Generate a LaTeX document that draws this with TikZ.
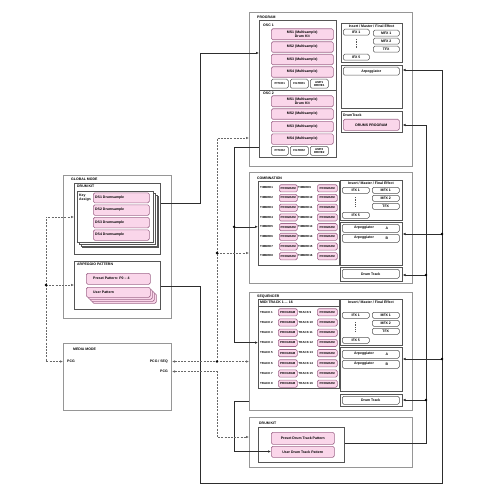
\documentclass[tikz,border=0pt]{standalone}
\usepackage{fontspec}
\setmainfont{Liberation Sans}
\usetikzlibrary{arrows.meta,calc}
\definecolor{pinkf}{RGB}{250,214,234}
\definecolor{pinkd}{RGB}{160,105,140}
\definecolor{outerg}{RGB}{150,150,150}
\definecolor{contg}{RGB}{85,85,85}
\definecolor{lineg}{RGB}{45,45,45}
\definecolor{dashg}{RGB}{105,105,105}
\newcommand\ft{\fontsize{3.5}{4}\selectfont\bfseries}
\newcommand\fts{\fontsize{2.9}{3.3}\selectfont\bfseries}
\newcommand\mybox[7]{\node[#2, inner sep=0pt, minimum width={((#5)-(#3))*1pt}, minimum height={((#6)-(#4))*1pt}, anchor=north west] (#1) at (#3,#4) {#7};}
\tikzset{
 outer/.style={draw=outerg, line width=1.1pt},
 cont/.style={draw=contg, line width=0.6pt},
 pbox/.style={draw=pinkd, fill=pinkf, line width=0.6pt, rounded corners=1.5pt, align=center, font=\ft},
 wbox/.style={draw=contg, fill=white, line width=0.5pt, rounded corners=1.5pt, align=center, font=\ft},
 pagebox/.style={draw=contg, fill=white, line width=0.5pt},
 txt/.style={inner sep=0pt, font=\ft, anchor=west},
 conn/.style={draw=lineg, line width=0.6pt},
 dconn/.style={draw=dashg, line width=0.6pt, dash pattern=on 2pt off 1.2pt},
 tip/.style={-{Latex[length=3pt,width=2.6pt]}},
 tipb/.style={{Latex[length=3pt,width=2.6pt]}-{Latex[length=3pt,width=2.6pt]}},
 jdot/.style={circle, fill=black, inner sep=0pt, minimum size=2.6pt},
 vdots/.style={draw=contg, line width=0.6pt, dash pattern=on 0.6pt off 1.1pt},
}
\begin{document}
\begin{tikzpicture}[x=1pt,y=-1pt]
\fill[white] (0,0) rectangle (500,492);
\useasboundingbox (0,0) rectangle (500,492);

% ================= PROGRAM =================
\mybox{prog}{outer}{249}{12}{412}{166}{}
\node[txt] (progl) at (257,17) {PROGRAM};
\mybox{osc}{cont}{259}{20}{336}{157}{}
\draw[cont] (259,90) -- (336,90);
\node[txt] (osc1l) at (263,25) {OSC 1};
\node[txt] (osc2l) at (263,93.5) {OSC 2};
\mybox{ms11}{pbox}{271}{28.5}{333}{39.5}{MS1 (Multisample)\\Drum Kit}
\mybox{ms12}{pbox}{271}{41.5}{333}{52}{MS2 (Multisample)}
\mybox{ms13}{pbox}{271}{54}{333}{64.5}{MS3 (Multisample)}
\mybox{ms14}{pbox}{271}{66.5}{333}{77}{MS4 (Multisample)}
\mybox{pi1}{wbox,font=\fts}{271}{79}{288}{88}{PITCH1}
\mybox{fi1}{wbox,font=\fts}{290}{79}{308}{88}{FILTER1}
\mybox{am1}{wbox,font=\fts}{310}{79}{328}{88}{AMP1\\DRIVE1}
\mybox{ms21}{pbox}{271}{95.5}{333}{106.5}{MS1 (Multisample)\\Drum Kit}
\mybox{ms22}{pbox}{271}{108.5}{333}{119}{MS2 (Multisample)}
\mybox{ms23}{pbox}{271}{121}{333}{131.5}{MS3 (Multisample)}
\mybox{ms24}{pbox}{271}{133.5}{333}{144}{MS4 (Multisample)}
\mybox{pi2}{wbox,font=\fts}{271}{146}{288}{155}{PITCH2}
\mybox{fi2}{wbox,font=\fts}{290}{146}{308}{155}{FILTER2}
\mybox{am2}{wbox,font=\fts}{310}{146}{328}{155}{AMP2\\DRIVE2}

\mybox{pfx}{cont}{341}{23}{402}{62}{}
\node[txt,anchor=center] (pfxl) at (371.5,26) {Insert / Master / Final Effect};
\mybox{pifx1}{wbox}{343}{29}{369}{35}{IFX 1}
\mybox{pmfx1}{wbox}{373}{30}{399}{36}{MFX 1}
\mybox{pmfx2}{wbox}{373}{38}{399}{44}{MFX 2}
\mybox{ptfx}{wbox}{373}{46}{399}{52}{TFX}
\mybox{pifx5}{wbox}{343}{54}{369}{60}{IFX 5}
\draw[vdots] (356,39) -- (356,48.5);
\mybox{parp}{cont}{341}{65}{402}{108}{}
\mybox{parpb}{wbox}{343}{67}{399}{75}{Arpeggiator}
\mybox{pdt}{cont}{341}{111}{402}{132}{}
\node[txt] (pdtl) at (343,115) {DrumTrack};
\mybox{pdp}{pbox}{343}{119}{399}{130}{DRUMS PROGRAM}

% ================= COMBINATION =================
\mybox{comb}{outer}{249}{172}{412}{283}{}
\node[txt] (combl) at (257,178) {COMBINATION};
\mybox{timb}{cont}{258}{181}{339}{265}{}
\foreach \i in {1,...,8} {
  \pgfmathsetmacro\yy{188+9.7*(\i-1)}
  \pgfmathtruncatemacro\j{\i+8}
  \node[txt,font=\fts] (tl\i) at (260,\yy) {TIMBRE\i};
  \mybox{tp\i}{pbox,font=\fts}{279}{\yy-3.6}{297}{\yy+3.6}{PROGRAM}
  \node[txt,font=\fts] (tl\j) at (298,\yy) {TIMBRE\j};
  \mybox{tp\j}{pbox,font=\fts}{317}{\yy-3.6}{337}{\yy+3.6}{PROGRAM}
}
\mybox{cfx}{cont}{340}{180}{402}{220}{}
\node[txt,anchor=center] (cfxl) at (371,183.5) {Insert / Master / Final Effect};
\mybox{cifx1}{wbox}{342}{187}{369}{193}{IFX 1}
\mybox{cmfx1}{wbox}{372}{187}{399}{193}{MFX 1}
\mybox{cmfx2}{wbox}{372}{195}{399}{201}{MFX 2}
\mybox{ctfx}{wbox}{372}{203}{399}{209}{TFX}
\mybox{cifx5}{wbox}{342}{212}{369}{218}{IFX 5}
\draw[vdots] (355,197) -- (355,206.5);
\mybox{carp}{cont}{340}{222}{402}{265}{}
\mybox{carpa}{wbox}{342}{224}{399}{232}{}
\node[txt,anchor=center] (carpal) at (364,228) {Arpeggiator};
\node[txt,anchor=center] (carpaa) at (387,228) {A};
\mybox{carpb}{wbox}{342}{234}{399}{242}{}
\node[txt,anchor=center] (carpbl) at (364,238) {Arpeggiator};
\node[txt,anchor=center] (carpbb) at (387,238) {B};
\mybox{cdt}{cont}{340}{267}{402}{281}{}
\mybox{cdtb}{wbox}{342}{269}{399}{278}{Drum Track}

% ================= SEQUENCER =================
\mybox{seq}{outer}{249}{292}{412}{410}{}
\node[txt] (seql) at (257,296.5) {SEQUENCER};
\mybox{midi}{cont}{258}{299}{339}{388}{}
\draw[cont] (258,306) -- (339,306);
\node[txt] (midil) at (260,302.5) {MIDI TRACK 1 ... 16};
\foreach \i in {1,...,8} {
  \pgfmathsetmacro\yy{312+10.2*(\i-1)}
  \pgfmathtruncatemacro\j{\i+8}
  \node[txt,font=\fts] (sl\i) at (260,\yy) {TRACK \i};
  \mybox{sp\i}{pbox,font=\fts}{278}{\yy-3.6}{297}{\yy+3.6}{PROGRAM}
  \node[txt,font=\fts] (sl\j) at (298.5,\yy) {TRACK \j};
  \mybox{sp\j}{pbox,font=\fts}{317}{\yy-3.6}{337}{\yy+3.6}{PROGRAM}
}
\mybox{sfx}{cont}{340}{299}{402}{345}{}
\node[txt,anchor=center] (sfxl) at (371,302.5) {Insert / Master / Final Effect};
\mybox{sifx1}{wbox}{342}{312}{369}{318}{IFX 1}
\mybox{smfx1}{wbox}{372}{312}{399}{318}{MFX 1}
\mybox{smfx2}{wbox}{372}{320}{399}{326}{MFX 2}
\mybox{stfx}{wbox}{372}{328}{399}{334}{TFX}
\mybox{sifx5}{wbox}{342}{337}{369}{343}{IFX 5}
\draw[vdots] (355,322) -- (355,331.5);
\mybox{sarp}{cont}{340}{347}{402}{391}{}
\mybox{sarpa}{wbox}{342}{350}{399}{358}{}
\node[txt,anchor=center] (sarpal) at (364,354) {Arpeggiator};
\node[txt,anchor=center] (sarpaa) at (387,354) {A};
\mybox{sarpb}{wbox}{342}{360}{399}{368}{}
\node[txt,anchor=center] (sarpbl) at (364,364) {Arpeggiator};
\node[txt,anchor=center] (sarpbb) at (387,364) {B};
\mybox{sdt}{cont}{340}{394}{402}{406}{}
\mybox{sdtb}{wbox}{342}{396}{399}{404}{Drum Track}

% ================= DRUM KIT (bottom) =================
\mybox{dk}{outer}{249}{417}{412}{467}{}
\node[txt] (dkl) at (259,423) {DRUM KIT};
\mybox{dkc}{cont}{258}{427}{344}{462}{}
\mybox{pdtp}{pbox}{271}{432}{334}{444}{Preset Drum Track Pattern}
\mybox{udt}{pbox}{271}{446}{334}{457}{User Drum Track Pattern}

% ================= GLOBAL MODE =================
\mybox{glob}{outer}{63}{175}{171}{318}{}
\node[txt] (globl) at (71,179.5) {GLOBAL MODE};
\mybox{gdk}{cont}{74}{183}{160}{254}{}
\node[txt] (gdkl) at (77,186.5) {DRUM KIT};
\mybox{pg4}{pagebox}{82.4}{196.4}{158.4}{247.4}{}
\mybox{pg3}{pagebox}{80.6}{194.6}{156.6}{245.6}{}
\mybox{pg2}{pagebox}{78.8}{192.8}{154.8}{243.8}{}
\mybox{pg1}{pagebox}{77}{191}{153}{242}{}
\node[txt,anchor=north west,align=left] (kal) at (79,193.5) {Key\\Assign};
\foreach \n/\ya/\yb in {1/192.5/202.5, 2/204.5/215, 3/217/227.5, 4/229.5/240} {
  \mybox{ds\n}{pbox}{93}{\ya}{149}{\yb}{}
  \node[txt] (dsl\n) at ([xshift=2pt]ds\n.west) {DS\n\ Drumsample};
}
\mybox{garp}{cont}{74}{261}{160}{309}{}
\node[txt] (garpl) at (77,264.5) {ARPEGGIO PATTERN};
\mybox{prp}{pbox}{86}{273}{150}{284}{}
\node[txt] (prpl) at (93,278.5) {Preset Pattern: P0 -- 4};
\mybox{up4}{pbox}{92}{293}{156}{303}{}
\mybox{up3}{pbox}{90}{291}{154}{301}{}
\mybox{up2}{pbox}{88}{289}{152}{299}{}
\mybox{up1}{pbox}{86}{287}{150}{297}{}
\node[txt] (upl) at (93,292) {User Pattern};

% ================= MEDIA MODE =================
\mybox{media}{outer}{63}{343}{171}{410}{}
\node[txt] (medial) at (73,349) {MEDIA MODE};
\node[txt] (mpcgl) at (67,361.5) {PCG};
\node[txt,anchor=east] (mseq) at (168,361.5) {PCG / SEQ};
\node[txt,anchor=east] (mpcgr) at (168,371.5) {PCG};

% ================= connectors =================
% global drum kit -> OSC
\coordinate (b1) at (200,203);
\coordinate (b2) at (200,53);
\draw[conn,tip] (gdk.east |- b1) -- (b1) -- (b2) -- (osc.west |- b2);
% arpeggio pattern -> arpeggiators
\coordinate (a1) at (200,286);
\coordinate (a2) at (200,483);
\coordinate (a3) at (442,483);
\coordinate (a4) at (442,70);
\coordinate (ad1) at (442,234);
\coordinate (ad2) at (442,359);
\draw[conn,tip] (garp.east |- a1) -- (a1) -- (a2) -- (a3) -- (a4) -- (parp.east |- a4);
\draw[conn,tip] (ad1) -- (carp.east |- ad1);
\draw[conn,tip] (ad2) -- (sarp.east |- ad2);
\node[jdot] (nd1) at (ad1) {};
\node[jdot] (nd2) at (ad2) {};
% drum track patterns -> drum tracks
\coordinate (c1) at (426,443);
\coordinate (c2) at (426,125);
\coordinate (cd1) at (426,275);
\coordinate (cd2) at (426,400);
\draw[conn,tip] (dkc.east |- c1) -- (c1) -- (c2) -- (pdt.east |- c2);
\draw[conn,tip] (cd1) -- (cdt.east |- cd1);
\draw[conn,tip] (cd2) -- (sdt.east |- cd2);
\node[jdot] (nd3) at (cd1) {};
\node[jdot] (nd4) at (cd2) {};
% program -> timbres / tracks
\coordinate (e1) at (234,147);
\coordinate (e2) at (234,342.6);
\coordinate (ed) at (234,226.8);
\draw[conn,tip] (osc.west |- e1) -- (e1) -- (e2) -- (midi.west |- e2);
\draw[conn,tip] (ed) -- (timb.west |- ed);
\node[jdot] (nd5) at (ed) {};
% sequencer -> user drum track pattern
\coordinate (f1) at (234,401);
\coordinate (f2) at (234,451.5);
\draw[conn,tip] (seq.west |- f1) -- (f1) -- (f2) -- (udt.west |- f2);
% media PCG (left) dashed
\coordinate (g1) at (46,217);
\coordinate (g2) at (46,361.5);
\coordinate (gd) at (46,285);
\draw[dconn,tip] (gd) -- (g1) -- (gdk.west |- g1);
\draw[dconn,tip] (gd) -- (g2) -- (media.west |- g2);
\draw[dconn,tip] (gd) -- (garp.west |- gd);
\node[jdot] (nd6) at (gd) {};
% media PCG / SEQ dashed
\coordinate (h1) at (217,361.5);
\coordinate (h2) at (217,138);
\coordinate (hd) at (217,253);
\draw[dconn,tipb] (media.east |- h1) -- (seq.west |- h1);
\draw[dconn,tip] (h1) -- (h2) -- (prog.west |- h2);
\draw[dconn,tip] (hd) -- (comb.west |- hd);
\node[jdot] (nd7) at (h1) {};
\node[jdot] (nd8) at (hd) {};
% media PCG (right) dashed -> drum kit
\coordinate (k1) at (217,371.5);
\coordinate (k2) at (217,437);
\draw[dconn,tipb] (media.east |- k1) -- (k1) -- (k2) -- (dk.west |- k2);
\end{tikzpicture}
\end{document}
